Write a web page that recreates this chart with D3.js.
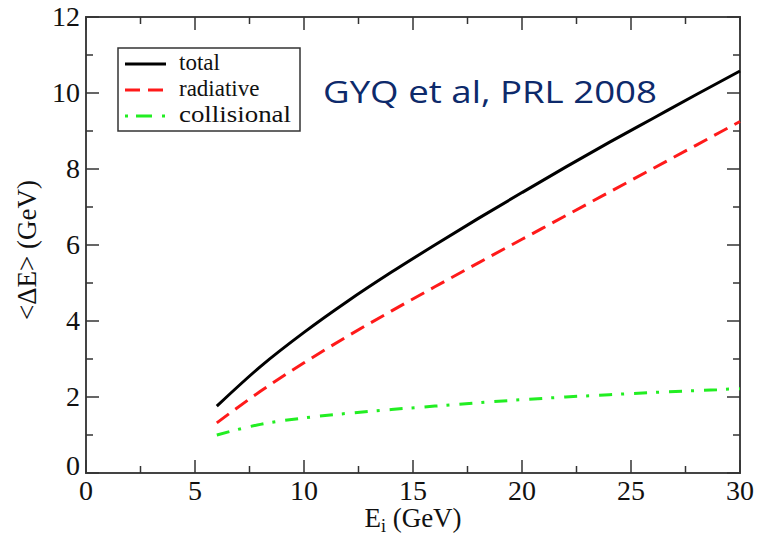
<!DOCTYPE html>
<html>
<head>
<meta charset="utf-8">
<script src="https://d3js.org/d3.v7.min.js"></script>
<style>
  body { margin: 0; background: #fff; }
</style>
</head>
<body>
<svg id="vis"></svg>
<script>
// energy values (GeV)
var energies    = [6, 8, 10, 12, 14, 16, 18, 20, 22, 24, 26, 28, 30];
var total       = [1.76, 2.8, 3.7, 4.52, 5.28, 6.0, 6.7, 7.38, 8.05, 8.7, 9.33, 9.96, 10.58];
var radiative   = [1.32, 2.15, 2.9, 3.6, 4.26, 4.9, 5.53, 6.15, 6.77, 7.39, 8.01, 8.63, 9.25];
var collisional = [1.0, 1.28, 1.45, 1.57, 1.67, 1.76, 1.85, 1.93, 2.0, 2.06, 2.12, 2.17, 2.22];
var seriesNames = ["total", "radiative", "collisional"];
var xTicks = [0, 5, 10, 15, 20, 25, 30];
var yTicks = [0, 2, 4, 6, 8, 10, 12];

var serif = "'Liberation Serif', 'Times New Roman', Times, serif";

var W = 765, H = 536;
var margin = {top: 17, right: 25, bottom: 63, left: 86};
var width = W - margin.left - margin.right,
    height = H - margin.top - margin.bottom;

var svg = d3.select("#vis").attr("width", W).attr("height", H)
  .append("g")
    .attr("transform", "translate(" + margin.left + "," + margin.top + ")");

var x = d3.scaleLinear().domain([0, 30]).range([0, width]);
var y = d3.scaleLinear().domain([0, 12]).range([height, 0]);

// frame
svg.append("rect")
  .attr("width", width).attr("height", height)
  .attr("fill", "none").attr("stroke", "#444").attr("stroke-width", 2);

// inward ticks on all four sides
var xMinor = d3.range(0, 30.01, 2.5), yMinor = d3.range(0, 12.01, 1);
function major(v, list) { return list.indexOf(v) >= 0; }
var tk = svg.append("g").attr("stroke", "#333").attr("stroke-width", 1.5);
xMinor.forEach(function(v) {
  var len = major(v, xTicks) ? 13 : 7;
  tk.append("line").attr("x1", x(v)).attr("x2", x(v)).attr("y1", height).attr("y2", height - len);
  tk.append("line").attr("x1", x(v)).attr("x2", x(v)).attr("y1", 0).attr("y2", len);
});
yMinor.forEach(function(v) {
  var len = major(v, yTicks) ? 13 : 7;
  tk.append("line").attr("y1", y(v)).attr("y2", y(v)).attr("x1", 0).attr("x2", len);
  tk.append("line").attr("y1", y(v)).attr("y2", y(v)).attr("x1", width).attr("x2", width - len);
});

// tick labels
svg.append("g").selectAll("text").data(xTicks).enter().append("text")
  .attr("x", function(d) { return x(d); })
  .attr("y", height + 27)
  .attr("text-anchor", "middle")
  .style("font-family", serif)
  .style("font-size", "28px")
  .style("fill", "#111")
  .text(function(d) { return d; });

svg.append("g").selectAll("text").data(yTicks).enter().append("text")
  .attr("x", -6)
  .attr("y", function(d) { return y(d) + (d === 0 ? 2 : 9); })
  .attr("text-anchor", "end")
  .style("font-family", serif)
  .style("font-size", "28px")
  .style("fill", "#111")
  .text(function(d) { return d; });

// axis titles
var xl = svg.append("text")
  .attr("x", x(15)).attr("y", height + 54)
  .attr("text-anchor", "middle")
  .style("font-family", serif)
  .style("font-size", "27px")
  .style("fill", "#111");
xl.append("tspan").text("E");
xl.append("tspan").attr("dy", 5).style("font-size", "18px").text("i");
xl.append("tspan").attr("dy", -5).text(" (GeV)");

svg.append("text")
  .attr("transform", "rotate(-90)")
  .attr("x", -(y(6) + 5)).attr("y", -50)
  .attr("text-anchor", "middle")
  .style("font-family", serif)
  .style("font-size", "27px")
  .style("fill", "#111")
  .text("<ΔE> (GeV)");

// curves
var styles = {
  total:       {color: "#000", dash: null},
  radiative:   {color: "#ff1a1a", dash: "15,8"},
  collisional: {color: "#22ee22", dash: "13,9,3,10"}
};
var seriesData = {total: total, radiative: radiative, collisional: collisional};

var line = d3.line()
  .x(function(d) { return x(d[0]); })
  .y(function(d) { return y(d[1]); })
  .curve(d3.curveMonotoneX);

seriesNames.forEach(function(name) {
  var pts = energies.map(function(e, i) { return [e, seriesData[name][i]]; });
  svg.append("path")
    .datum(pts)
    .attr("d", line)
    .attr("fill", "none")
    .attr("stroke", styles[name].color)
    .attr("stroke-width", 3)
    .attr("stroke-dasharray", styles[name].dash);
});

// legend
var lg = svg.append("g").attr("transform", "translate(" + (118 - margin.left) + "," + (48 - margin.top) + ")");
lg.append("rect").attr("width", 182).attr("height", 83)
  .attr("fill", "#fff").attr("stroke", "#333").attr("stroke-width", 1.5);
seriesNames.forEach(function(name, i) {
  var ly = 16 + i * 26;
  lg.append("line")
    .attr("x1", 7).attr("x2", 48).attr("y1", ly).attr("y2", ly)
    .attr("stroke", styles[name].color).attr("stroke-width", 3)
    .attr("stroke-dasharray", name === "collisional" ? "3,8,16,10,3" : styles[name].dash);
  lg.append("text")
    .attr("x", 61).attr("y", ly + 6)
    .attr("textLength", name === "collisional" ? 112 : null)
    .attr("lengthAdjust", "spacingAndGlyphs")
    .style("font-family", serif)
    .style("font-size", "23px")
    .style("fill", "#111")
    .text(name);
});

// annotation
svg.append("text")
  .attr("x", 323 - margin.left).attr("y", 103 - margin.top)
  .attr("textLength", 334)
  .attr("lengthAdjust", "spacingAndGlyphs")
  .style("font-family", "'Open Sans', Lato, sans-serif")
  .style("font-size", "31px")
  .style("fill", "#0d2a6b")
  .text("GYQ et al, PRL 2008");
</script>
</body>
</html>
